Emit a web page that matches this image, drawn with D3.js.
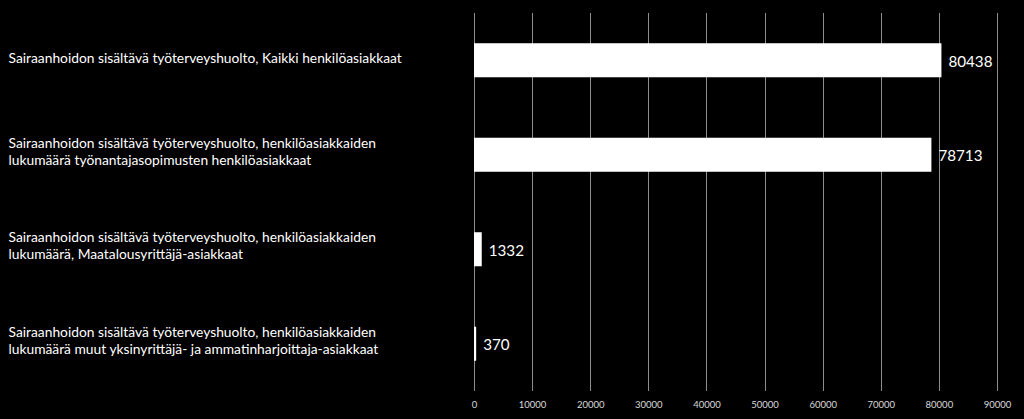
<!DOCTYPE html>
<html><head><meta charset="utf-8">
<script src="https://cdn.jsdelivr.net/npm/d3@7"></script>
<style>html,body{margin:0;padding:0;background:#000;}svg{display:block;}</style>
</head><body>
<svg id="chart" width="1024" height="419"></svg>
<script>
const categories = [
  ["Sairaanhoidon sisältävä työterveyshuolto, Kaikki henkilöasiakkaat"],
  ["Sairaanhoidon sisältävä työterveyshuolto, henkilöasiakkaiden", "lukumäärä työnantajasopimusten henkilöasiakkaat"],
  ["Sairaanhoidon sisältävä työterveyshuolto, henkilöasiakkaiden", "lukumäärä, Maatalousyrittäjä-asiakkaat"],
  ["Sairaanhoidon sisältävä työterveyshuolto, henkilöasiakkaiden", "lukumäärä muut yksinyrittäjä- ja ammatinharjoittaja-asiakkaat"]
];
const values = [80438, 78713, 1332, 370];
const tickValues = [0, 10000, 20000, 30000, 40000, 50000, 60000, 70000, 80000, 90000];

const svg = d3.select("#chart");
const x = d3.scaleLinear().domain([0, 90000]).range([474, 997]);
const y = d3.scaleBand().domain(d3.range(categories.length)).range([13, 391]).paddingInner(0.64).paddingOuter(0.32);

// gridlines
svg.append("g").selectAll("line").data(tickValues).join("line")
  .attr("x1", d => Math.round(x(d)) + 0.5).attr("x2", d => Math.round(x(d)) + 0.5)
  .attr("y1", 13).attr("y2", 391)
  .attr("stroke", "#8c8c8c").attr("stroke-width", 1);

// tick labels
svg.append("g").selectAll("text").data(tickValues).join("text")
  .attr("x", d => x(d) + 0.5).attr("y", 407.5)
  .attr("text-anchor", "middle")
  .attr("fill", "#d9d9d9")
  .style("font-family", "Lato, 'Open Sans', sans-serif").style("font-size", "9.5px")
  .text(d => d);

// bars
svg.append("g").selectAll("rect").data(values).join("rect")
  .attr("x", x(0)).attr("y", (d, i) => y(i))
  .attr("width", d => x(d) - x(0)).attr("height", y.bandwidth())
  .attr("fill", "#ffffff");

// value labels
svg.append("g").selectAll("text").data(values).join("text")
  .attr("x", d => x(d) + 7).attr("y", (d, i) => y(i) + y.bandwidth() / 2 + 6.5)
  .attr("fill", "#ffffff")
  .style("font-family", "Lato, 'Open Sans', sans-serif").style("font-size", "15.2px")
  .text(d => d);

// category labels
const cg = svg.append("g");
categories.forEach((lines, i) => {
  const cy = y(i) + y.bandwidth() / 2;
  const n = lines.length;
  const t = cg.append("text")
    .attr("fill", "#ffffff")
    .style("font-family", "Lato, 'Open Sans', sans-serif").style("font-size", "13.8px");
  lines.forEach((ln, j) => {
    t.append("tspan").attr("x", 8.5)
      .attr("y", cy + (j - (n - 1) / 2) * 17 + (n === 1 ? 2.7 : 1.5))
      .text(ln);
  });
});
</script>
</body></html>
